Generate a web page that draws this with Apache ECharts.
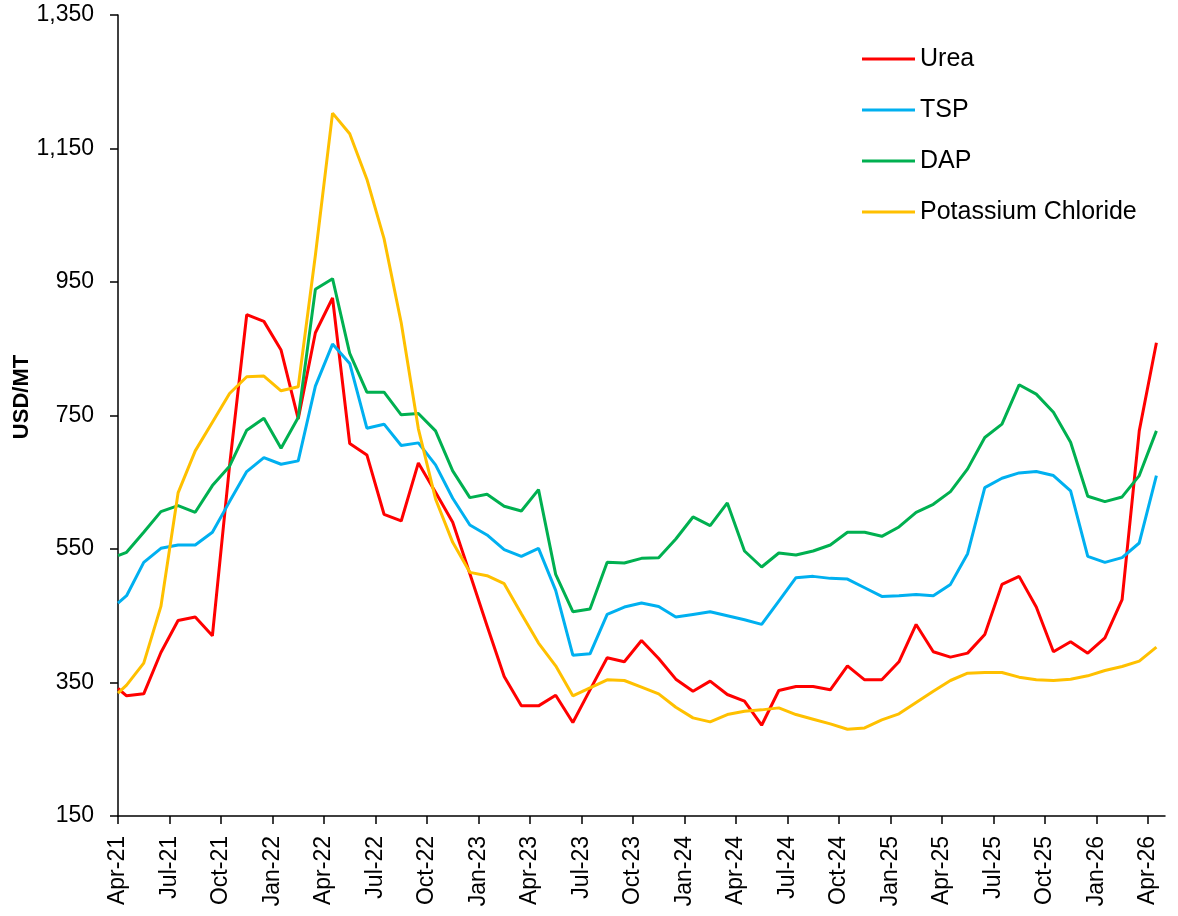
<!DOCTYPE html>
<html>
<head>
<meta charset="utf-8">
<title>Fertilizer prices</title>
<script src="https://cdn.jsdelivr.net/npm/echarts@6/dist/echarts.min.js"></script>
<style>
  html, body { margin: 0; padding: 0; background: #fff; }
  #main { width: 1178px; height: 916px; }
</style>
</head>
<body>
<div id="main"></div>
<script>
// month labels, Apr-21 .. Apr-26
var months = ['Apr-21','May-21','Jun-21','Jul-21','Aug-21','Sep-21','Oct-21','Nov-21','Dec-21',
  'Jan-22','Feb-22','Mar-22','Apr-22','May-22','Jun-22','Jul-22','Aug-22','Sep-22','Oct-22','Nov-22','Dec-22',
  'Jan-23','Feb-23','Mar-23','Apr-23','May-23','Jun-23','Jul-23','Aug-23','Sep-23','Oct-23','Nov-23','Dec-23',
  'Jan-24','Feb-24','Mar-24','Apr-24','May-24','Jun-24','Jul-24','Aug-24','Sep-24','Oct-24','Nov-24','Dec-24',
  'Jan-25','Feb-25','Mar-25','Apr-25','May-25','Jun-25','Jul-25','Aug-25','Sep-25','Oct-25','Nov-25','Dec-25',
  'Jan-26','Feb-26','Mar-26','Apr-26'];

// first value sits on the Apr-21 tick, the rest are monthly (mid-month)
var urea = [341,
  330,333,395,443,448,420,675,901,891,
  848,745,874,926,708,691,602,592,679,635,590,513,
  435,359,315,315,331,290,339,387,381,413,386,355,
  337,352,332,322,286,338,344,344,339,375,354,354,
  381,437,396,388,394,422,497,509,463,396,411,394,
  417,474,727,859];

var tsp = [469,
  480,530,551,556,556,575,621,666,687,
  677,682,794,857,828,731,737,705,709,676,626,586,
  571,549,539,551,488,391,393,452,463,469,464,448,
  452,456,450,444,437,472,507,509,506,505,492,479,
  480,482,480,497,543,642,656,664,666,660,637,539,
  530,537,559,660];

var dap = [540,
  545,575,606,615,605,645,674,728,746,
  701,747,939,955,843,785,785,751,753,727,667,627,
  632,614,607,639,512,456,460,530,529,536,537,565,
  598,585,619,547,523,544,541,547,556,575,575,569,
  583,605,617,636,670,717,737,796,782,755,710,629,
  621,628,660,727];

var potash = [334,
  346,379,464,634,697,740,783,808,809,
  787,793,990,1203,1172,1104,1015,889,730,625,560,515,
  510,498,453,409,375,330,342,354,353,343,333,313,
  297,291,302,307,309,312,302,295,288,280,282,294,
  303,320,337,353,364,365,365,358,354,353,355,360,
  368,374,382,403];

var tickMonths = [];
for (var i = 0; i < months.length; i += 3) tickMonths.push(i);

function withX(vals) {
  var out = [[0, vals[0]]];
  for (var k = 1; k < vals.length; k++) out.push([k - 0.5, vals[k]]);
  return out;
}

var myChart = echarts.init(document.getElementById('main'));
var font = 'Liberation Sans';

function line(name, color, vals) {
  return {
    name: name,
    type: 'line',
    data: withX(vals),
    showSymbol: false,
    symbol: 'none',
    lineStyle: { color: color, width: 3 },
    itemStyle: { color: color },
    animation: false
  };
}

var option = {
  backgroundColor: '#fff',
  grid: { left: 118, right: 13, top: 15, bottom: 100 },
  legend: {
    orient: 'vertical',
    left: 857,
    top: 41,
    icon: 'rect',
    itemWidth: 53,
    itemHeight: 3,
    itemGap: 25,
    textStyle: { fontFamily: font, fontSize: 25, color: '#000', lineHeight: 26 },
    data: ['Urea', 'TSP', 'DAP', 'Potassium Chloride']
  },
  xAxis: {
    type: 'value',
    min: 0,
    max: 61,
    interval: 3,
    splitLine: { show: false },
    axisLine: { lineStyle: { color: '#000', width: 1.5 } },
    axisTick: { show: true, length: 8, customValues: tickMonths, lineStyle: { color: '#000', width: 1.5 } },
    axisLabel: {
      customValues: tickMonths,
      rotate: 90,
      margin: 20,
      fontFamily: font,
      fontSize: 23,
      color: '#000',
      formatter: function (v) { return months[Math.round(v)] || ''; }
    }
  },
  yAxis: {
    type: 'value',
    min: 150,
    max: 1350,
    interval: 200,
    splitLine: { show: false },
    axisLine: { show: true, lineStyle: { color: '#000', width: 1.5 } },
    axisTick: { show: true, length: 8, lineStyle: { color: '#000', width: 1.5 } },
    axisLabel: {
      margin: 24,
      fontFamily: font,
      fontSize: 23,
      color: '#000',
      formatter: function (v) { return v.toLocaleString('en-US'); }
    }
  },
  graphic: [{
    type: 'text',
    x: 22,
    y: 397,
    rotation: Math.PI / 2,
    style: {
      text: 'USD/MT',
      fill: '#000',
      font: 'bold 22px "Liberation Sans"',
      align: 'center',
      verticalAlign: 'middle'
    }
  }],
  series: [
    line('Urea', '#FF0000', urea),
    line('TSP', '#00B0F0', tsp),
    line('DAP', '#00B050', dap),
    line('Potassium Chloride', '#FFC000', potash)
  ]
};

myChart.setOption(option);
</script>
</body>
</html>
